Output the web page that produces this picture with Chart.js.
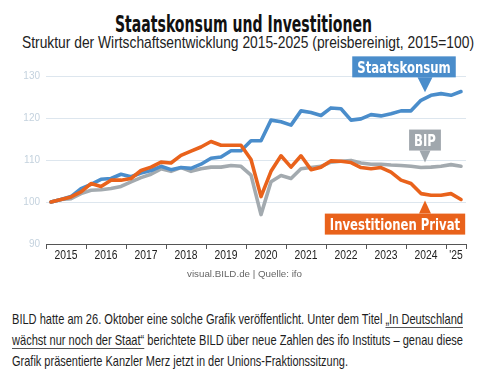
<!DOCTYPE html>
<html>
<head>
<meta charset="utf-8">
<script src="https://cdn.jsdelivr.net/npm/chart.js@4.4.1/dist/chart.umd.min.js"></script>
<style>
    body { margin: 0; width: 482px; height: 377px; background: #fff; position: relative; overflow: hidden;
           font-family: "Liberation Sans", sans-serif; color: #1a1a1a; }
    .t { position: absolute; white-space: nowrap; transform-origin: 0 0; line-height: 1; }
    #title { font-family: "DejaVu Sans", sans-serif; font-size: 23px; font-weight: bold; color: #111; }
    #subtitle { font-size: 17px; color: #222; }
    #chartBox { position: absolute; top: 0; left: 0; width: 482px; height: 290px; }
    #source { font-size: 9.5px; color: #666; }
    .p { font-size: 15px; color: #1e1e1e; }
    .p a { color: #1e1e1e; text-decoration: underline; text-decoration-color: #555;
           text-decoration-thickness: 1px; text-underline-offset: 3px; }
</style>
</head>
<body>
<div class="t" id="title" style="left:115px; top:12.5px" data-w="257">Staatskonsum und Investitionen</div>
<div class="t" id="subtitle" style="left:22px; top:33.9px" data-w="452">Struktur der Wirtschaftsentwicklung 2015-2025 (preisbereinigt, 2015=100)</div>
<div id="chartBox"><canvas id="chart" width="482" height="290"></canvas></div>
<div class="t" id="source" style="left:187px; top:269px" data-w="115">visual.BILD.de | Quelle: ifo</div>
<div class="t p" style="left:12px; top:311.3px" data-w="451">BILD hatte am 26. Oktober eine solche Grafik veröffentlicht. Unter dem Titel <a>„In Deutschland</a></div>
<div class="t p" style="left:12px; top:332.3px" data-w="451"><a>wächst nur noch der Staat“</a> berichtete BILD über neue Zahlen des ifo Instituts – genau diese</div>
<div class="t p" style="left:12px; top:353.3px" data-w="336">Grafik präsentierte Kanzler Merz jetzt in der Unions-Fraktionssitzung.</div>

<script>
// schmale Schrift nachbilden: Text horizontal auf Zielbreite stauchen
document.querySelectorAll(".t").forEach(el => {
    const natural = el.getBoundingClientRect().width;
    el.style.transform = "scaleX(" + (el.dataset.w / natural) + ")";
});

// Jahre (Achsenbeschriftung) und Quartalsgrenzen
const yearLabels = ["2015", "2016", "2017", "2018", "2019", "2020", "2021", "2022", "2023", "2024", "'25"];
const yearBounds = [0, 4, 8, 12, 16, 20, 24, 28, 32, 36, 40, 42];

// Quartalswerte 2015 Q1 bis 2025 Q2 (2015=100)
const staatskonsum = [100, 100.6, 101.3, 103.2, 104.2, 105.4, 105.6, 106.6, 106.0, 106.9,
                      107.5, 108.5, 107.7, 108.2, 108.0, 109.0, 110.4, 110.7, 112.2, 112.2,
                      114.6, 114.6, 119.5, 119.1, 118.3, 121.7, 121.3, 120.6, 122.4, 122.2,
                      119.5, 119.8, 120.8, 120.5, 121.0, 121.7, 121.7, 124.2, 125.4, 125.8,
                      125.4, 126.3];
const investPrivat = [100, 100.6, 101.2, 102.4, 104.4, 103.7, 105.2, 105.2, 105.6, 107.5,
                      108.3, 109.5, 109.3, 111.1, 112.1, 113.1, 114.4, 113.5, 113.5, 113.5,
                      110.1, 101.3, 107.3, 111.0, 108.3, 111.0, 107.7, 108.3, 109.8, 109.7,
                      109.4, 108.2, 107.9, 108.2, 107.1, 105.2, 104.4, 102.0, 101.6, 101.6,
                      102.0, 100.6];
const bip = [100, 100.6, 100.8, 102.0, 102.8, 102.9, 103.2, 103.7, 104.8, 105.8,
             106.6, 107.9, 107.3, 108.2, 107.3, 107.9, 108.3, 108.3, 108.7, 108.5,
             106.4, 97.0, 104.8, 106.3, 105.6, 107.9, 108.2, 108.5, 109.5, 109.7,
             109.9, 109.3, 109.0, 109.0, 108.8, 108.7, 108.5, 108.2, 108.3, 108.5,
             108.9, 108.5];

const BLUE = "#4a8dcb";
const ORANGE = "#e9621b";
const GREY = "#a3aaaf";

const toPoints = arr => arr.map((v, i) => ({ x: i + 0.5, y: v }));

// Jahreszahlen mittig zwischen die Striche setzen
const yearLabelPlugin = {
    id: "yearLabels",
    afterDraw(chart) {
        const xs = chart.scales.x;
        const ctx = chart.ctx;
        ctx.save();
        ctx.font = "12px 'Liberation Sans', sans-serif";
        ctx.fillStyle = "#222";
        ctx.textAlign = "center";
        ctx.textBaseline = "alphabetic";
        yearLabels.forEach((lbl, k) => {
            const mid = (xs.getPixelForValue(yearBounds[k]) + xs.getPixelForValue(yearBounds[k + 1])) / 2;
            ctx.save();
            ctx.translate(mid, chart.chartArea.bottom + 14.5);
            ctx.scale(0.86, 1);
            ctx.fillText(lbl, 0, 0);
            ctx.restore();
        });
        ctx.restore();
    }
};

// Beschriftungskästen mit Pfeil
const calloutPlugin = {
    id: "callouts",
    afterDatasetsDraw(chart, args, opts) {
        const ctx = chart.ctx;
        const xs = chart.scales.x, ys = chart.scales.y;
        const squeeze = 0.73;
        ctx.save();
        ctx.font = "bold 16px 'DejaVu Sans', sans-serif";
        opts.items.forEach(it => {
            const series = chart.data.datasets[it.dataset].data;
            const px = xs.getPixelForValue(it.at);
            const py = ys.getPixelForValue(series[Math.floor(it.at)].y);
            const tipY = py + it.gap;
            const dir = it.gap < 0 ? -1 : 1;
            const baseY = tipY + dir * it.arrow;
            const w = ctx.measureText(it.text).width * squeeze + 10;
            const h = 21;
            const bx = px + it.shift - w / 2;
            const by = dir < 0 ? baseY - h : baseY;
            ctx.fillStyle = it.color;
            ctx.fillRect(bx, by, w, h);
            ctx.beginPath();
            ctx.moveTo(px - it.arrowW / 2, baseY);
            ctx.lineTo(px + it.arrowW / 2, baseY);
            ctx.lineTo(px, tipY);
            ctx.closePath();
            ctx.fill();
            ctx.fillStyle = "#fff";
            ctx.textAlign = "center";
            ctx.textBaseline = "alphabetic";
            ctx.save();
            ctx.translate(bx + w / 2, by + 16.5);
            ctx.scale(squeeze, 1);
            ctx.fillText(it.text, 0, 0);
            ctx.restore();
        });
        ctx.restore();
    }
};

const chart = new Chart(document.getElementById("chart"), {
    type: "line",
    data: {
        datasets: [
            { label: "Investitionen Privat", data: toPoints(investPrivat), borderColor: ORANGE },
            { label: "Staatskonsum", data: toPoints(staatskonsum), borderColor: BLUE },
            { label: "BIP", data: toPoints(bip), borderColor: GREY }
        ]
    },
    options: {
        responsive: false,
        animation: false,
        layout: { padding: { top: 76, left: 0, right: 16, bottom: 41 } },
        elements: {
            line: { borderWidth: 3.6, tension: 0, borderJoinStyle: "round", borderCapStyle: "round" },
            point: { radius: 0 }
        },
        plugins: {
            legend: { display: false },
            tooltip: { enabled: false },
            callouts: {
                items: [
                    { text: "Staatskonsum", dataset: 1, at: 37.9, gap: -8, arrow: 15, arrowW: 15, shift: -21, color: BLUE },
                    { text: "BIP", dataset: 2, at: 37.9, gap: -5, arrow: 12, arrowW: 11, shift: 0, color: "#a0a7ad" },
                    { text: "Investitionen Privat", dataset: 0, at: 37.9, gap: 7, arrow: 13, arrowW: 12, shift: -30, color: ORANGE }
                ]
            }
        },
        scales: {
            x: {
                type: "linear",
                min: 0,
                max: 42,
                afterBuildTicks: scale => { scale.ticks = yearBounds.map(v => ({ value: v })); },
                ticks: { display: false },
                grid: { drawOnChartArea: false, drawTicks: true, tickLength: 5, color: "#555" },
                border: { display: true, color: "#555", width: 1 }
            },
            y: {
                min: 90,
                max: 130,
                ticks: { stepSize: 10, color: "#c4d2de", padding: 6,
                         font: { family: "'Liberation Sans', sans-serif", size: 10 } },
                grid: { color: "#dde6ee", drawTicks: false },
                border: { display: false },
                afterFit: scale => { scale.width = 46; }
            }
        }
    },
    plugins: [yearLabelPlugin, calloutPlugin]
});
</script>
</body>
</html>
